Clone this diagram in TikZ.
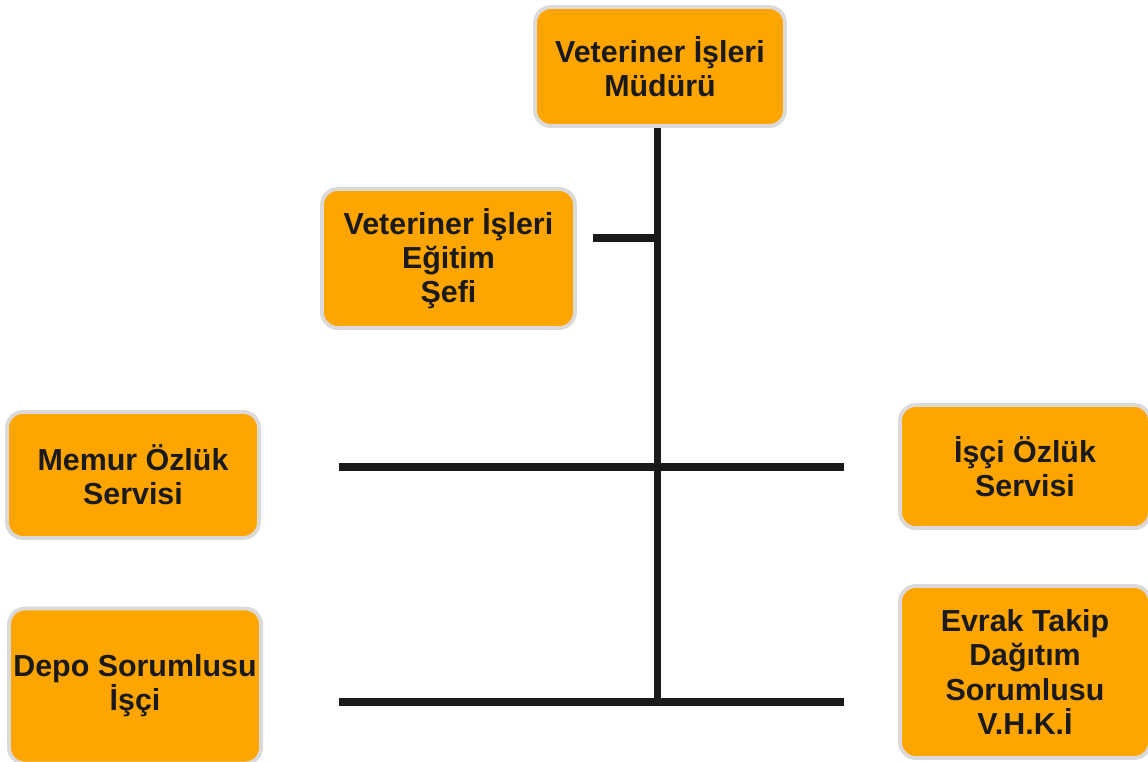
\documentclass[tikz,border=0pt]{standalone}
\usepackage{fontspec}
\setmainfont{Liberation Sans}

\definecolor{turuncu}{HTML}{FFA500}
\definecolor{kenar}{HTML}{DADADA}
\definecolor{cizgi}{HTML}{1A1A1A}

\begin{document}
\begin{tikzpicture}[x=0.1mm, y=-0.1mm]
        \tikzstyle{birim}=[draw=kenar, fill=turuncu, line width=1.1pt, rounded corners=4.5pt, align=center, inner sep=0pt, text=cizgi, font=\bfseries\fontsize{8.65}{9.7}\selectfont];
        \tikzstyle{hat}=[draw=cizgi, line width=2pt];

        \useasboundingbox (0,0) rectangle (1148,762);
        \clip (0,0) rectangle (1148,762);

        % birimler
        \node[birim, minimum width=2.50cm, minimum height=1.19cm] (mudur) at (660,66.5) {Veteriner İşleri\\Müdürü};
        \node[birim, minimum width=2.53cm, minimum height=1.39cm] (egitim) at (448.5,258.5) {Veteriner İşleri\\Eğitim\\Şefi};
        \node[birim, minimum width=2.52cm, minimum height=1.26cm] (memur) at (133,475) {Memur Özlük\\Servisi};
        \node[birim, minimum width=2.50cm, minimum height=1.23cm] (isci) at (1025,466.5) {İşçi Özlük\\Servisi};
        \node[birim, minimum width=2.52cm, minimum height=1.55cm] (depo) at (135,686) {Depo Sorumlusu\\İşçi};
        \node[birim, minimum width=2.50cm, minimum height=1.72cm] (evrak) at (1025,672) {Evrak Takip\\Dağıtım\\Sorumlusu\\V.H.K.İ};

        % baglanti cizgileri
        \coordinate (dip) at (657.5,702);
        \coordinate (egsol) at (593,238);
        \coordinate (orsol) at (339,467);
        \coordinate (orsag) at (844,467);
        \coordinate (altsol) at (339,702);
        \coordinate (altsag) at (844,702);

        \draw[hat] (dip |- mudur.south) -- (dip);
        \draw[hat] (egsol) -- (egsol -| dip);
        \draw[hat] (orsol) -- (orsag);
        \draw[hat] (altsol) -- (altsag);
\end{tikzpicture}
\end{document}
